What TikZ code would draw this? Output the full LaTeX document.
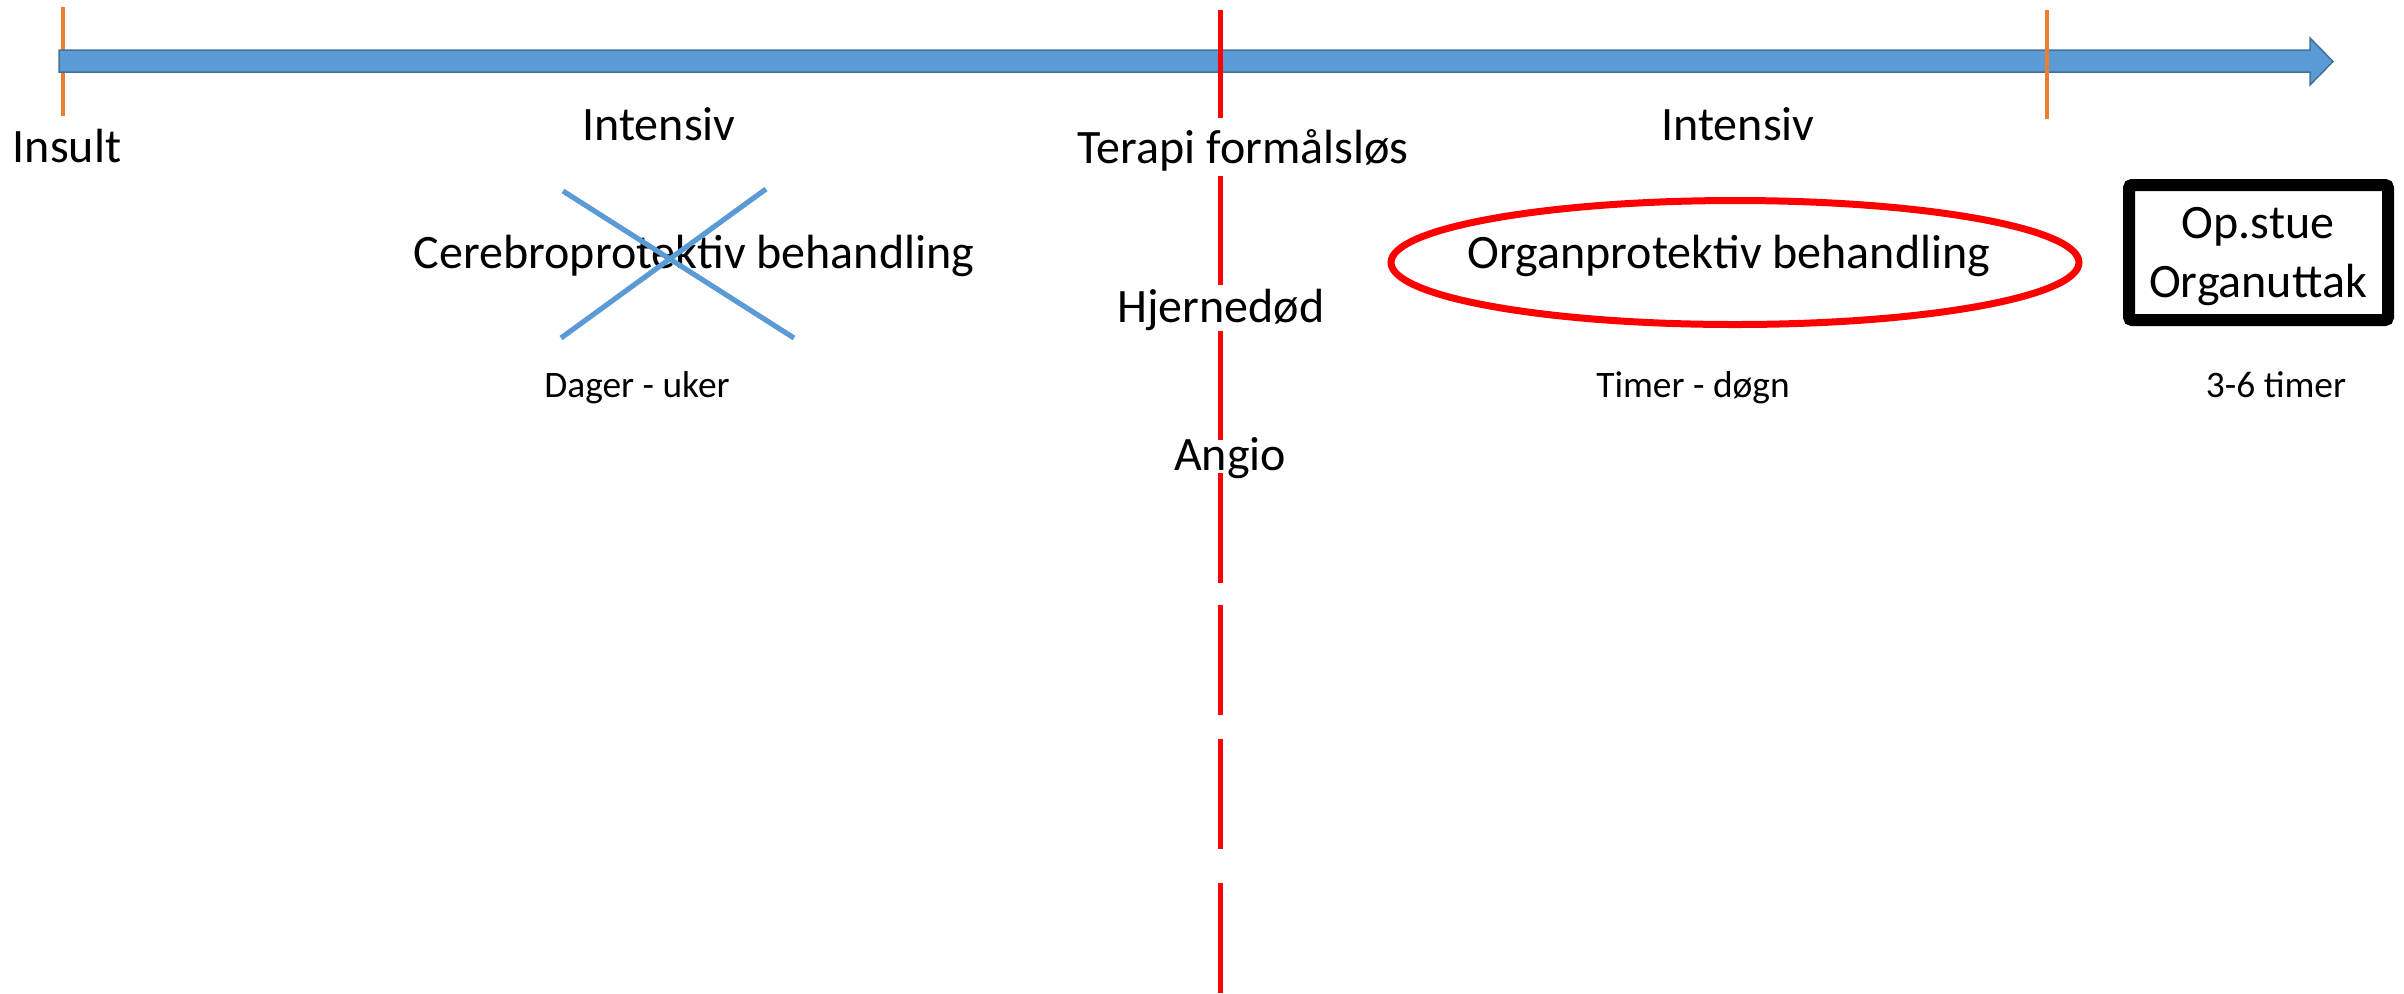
\documentclass[tikz,border=0pt]{standalone}
\usepackage{fontspec}
\setmainfont{Carlito}
\usetikzlibrary{shapes.geometric}
\definecolor{arrowfill}{HTML}{5B9BD5}
\definecolor{arrowline}{HTML}{41719C}
\definecolor{tickorange}{HTML}{ED7D31}
\definecolor{crossblue}{HTML}{5B9BD5}
\tikzset{
  bigtxt/.style={inner sep=0pt, anchor=base, font=\fontsize{24}{29}\selectfont},
  smalltxt/.style={inner sep=0pt, anchor=base, font=\fontsize{18.7}{22}\selectfont},
  tickline/.style={draw=tickorange, line width=2.2pt},
  redline/.style={draw=red, line width=2.5pt},
  crossline/.style={draw=crossblue, line width=2.6pt},
}
\begin{document}
\begin{tikzpicture}[x=0.5pt,y=-0.5pt]
\useasboundingbox (0,0) rectangle (2404,993);
% first tick (behind arrow)
\draw[tickline] (63,7) -- (63,116);
% timeline arrow
\filldraw[fill=arrowfill, draw=arrowline, line width=0.75pt, line join=miter]
  (59,50) -- (2310,50) -- (2310,38) -- (2333,61.5) -- (2310,85) -- (2310,72) -- (59,72) -- cycle;
% second tick
\draw[tickline] (2047,10) -- (2047,119);
% red dashed line
\foreach \a/\b in {10/118,176/285,331/440,473/583,605/715,739/849,883/993}
  \draw[redline] (1220,\a) -- (1220,\b);

% texts
\node[bigtxt] (insult) at (67,162) {Insult};
\node[bigtxt] (int1) at (659,140) {Intensiv};
\node[bigtxt] (terapi) at (1243,163) {Terapi formålsløs};
\node[bigtxt] (int2) at (1738,140) {Intensiv};
\node[bigtxt] (cereb) at (694,268) {Cerebroprotektiv behandling};
\node[bigtxt] (hjerne) at (1221,322) {Hjernedød};
\node[bigtxt] (angio) at (1230,470) {Angio};
\node[smalltxt] (dager) at (637,397) {Dager - uker};
\node[smalltxt] (timer) at (1693,397) {Timer - døgn};
\node[smalltxt] (tretimer) at (2276,397) {3-6 timer};

% cross over cerebroprotective treatment
\draw[crossline] (563,191) -- (794,338);
\draw[crossline] (766,189) -- (561,338);

% ellipse
\node[draw=red, line width=3.5pt, ellipse, minimum width=344pt, minimum height=62pt, inner sep=0pt] (ell) at (1735,262.5) {};
\node[bigtxt] (organ) at (1729,268) {Organprotektiv behandling};

% box
\node[draw=black, line width=6pt, rounded corners=1.5pt, minimum width=129.5pt, minimum height=67.5pt, inner sep=0pt] (box) at (2258.5,252.5) {};
\node[bigtxt] (opstue) at (2258,238) {Op.stue};
\node[bigtxt] (uttak) at (2258,297) {Organuttak};
\end{tikzpicture}
\end{document}
